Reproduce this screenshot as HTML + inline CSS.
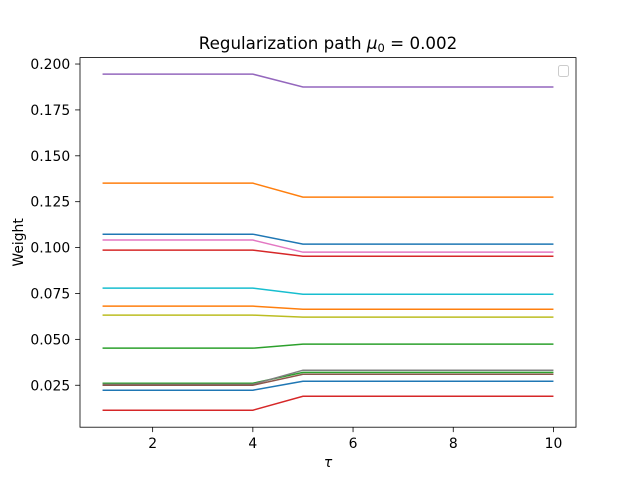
<!DOCTYPE html>
<html><head><meta charset="utf-8"><style>
body{margin:0;background:#fff;}
svg text{font-family:"DejaVu Sans","Liberation Sans",sans-serif;}
</style></head><body>
<svg id="chart" width="640" height="480" xmlns="http://www.w3.org/2000/svg"></svg>
<script>
const taus=[1,2,3,4,5,6,7,8,9,10];
const startVals=[0.1945,0.1351,0.1073,0.1041,0.0986,0.0779,0.0681,0.0632,0.0452,0.0261,0.0255,0.0250,0.0223,0.0114];
const endVals=[0.1875,0.1275,0.1019,0.0975,0.0953,0.0746,0.0664,0.0621,0.0474,0.0320,0.0332,0.0310,0.0272,0.0190];
const colors=['#9467bd','#ff7f0e','#1f77b4','#e377c2','#d62728','#17becf','#ff7f0e','#bcbd22','#2ca02c','#2ca02c','#7f7f7f','#8c564b','#1f77b4','#d62728'];
const seriesNames=['purple','orange','blue','pink','red','cyan','orange-2','olive','green','green-2','gray','brown','blue-2','red-2'];
const yTicks=[0.025,0.050,0.075,0.100,0.125,0.150,0.175,0.200];
const xTicks=[2,4,6,8,10];

const L=80,R=576,T=57.6,B=427.2;
const xMin=0.55,xMax=10.45,yMin=0.00215,yMax=0.2035;
const xs=v=>L+(v-xMin)/(xMax-xMin)*(R-L);
const ys=v=>B-(v-yMin)/(yMax-yMin)*(B-T);
const svg=document.getElementById('chart');
const NS='http://www.w3.org/2000/svg';
function mk(tag,attrs,parent){const e=document.createElementNS(NS,tag);for(const k in attrs)e.setAttribute(k,attrs[k]);(parent||svg).appendChild(e);return e;}

const plotBg=mk('rect',{x:L,y:T,width:R-L,height:B-T,fill:'#fff'});



startVals.forEach((s,i)=>{
  const vals=taus.map(t=>t<=4?s:endVals[i]);
  const pts=taus.map((t,j)=>xs(t).toFixed(2)+','+ys(vals[j]).toFixed(2)).join(' ');
  const pl=mk('polyline',{points:pts,fill:'none',stroke:colors[i],'stroke-width':1.5});
  
  
});

const frame=mk('rect',{x:L,y:T,width:R-L,height:B-T,fill:'none',stroke:'#000','stroke-width':0.8});



xTicks.forEach(t=>{
  const x=xs(t);
  const tk=mk('line',{x1:x,x2:x,y1:B,y2:B+4.9,stroke:'#000','stroke-width':0.8});
  
  
  const lb=mk('text',{x:x,y:B+21,'text-anchor':'middle','font-size':13.9});
  lb.textContent=t;
  
  
});
yTicks.forEach(t=>{
  const y=ys(t);
  const tk=mk('line',{x1:L-4.9,x2:L,y1:y,y2:y,stroke:'#000','stroke-width':0.8});
  
  
  const lb=mk('text',{x:L-9.8,y:y+5,'text-anchor':'end','font-size':13.9});
  lb.textContent=t.toFixed(3);
  
  
});

const xt=mk('text',{x:(L+R)/2,y:467,'text-anchor':'middle','font-size':13.9,'font-style':'italic'});
xt.textContent='τ';



const yt=mk('text',{x:23,y:(T+B)/2,'text-anchor':'middle','font-size':13.9,transform:'rotate(-90 23 '+((T+B)/2)+')'});
yt.textContent='Weight';



const title=mk('text',{x:(L+R)/2,y:49,'text-anchor':'middle','font-size':16.7});
title.innerHTML='Regularization path <tspan font-style="italic">μ</tspan><tspan font-size="11.5" dy="3">0</tspan><tspan dy="-3"> = 0.002</tspan>';



const leg=mk('rect',{x:558.5,y:65.5,width:10,height:11,rx:2,fill:'#fff',stroke:'#ccc','stroke-width':1});


</script>
</body></html>
